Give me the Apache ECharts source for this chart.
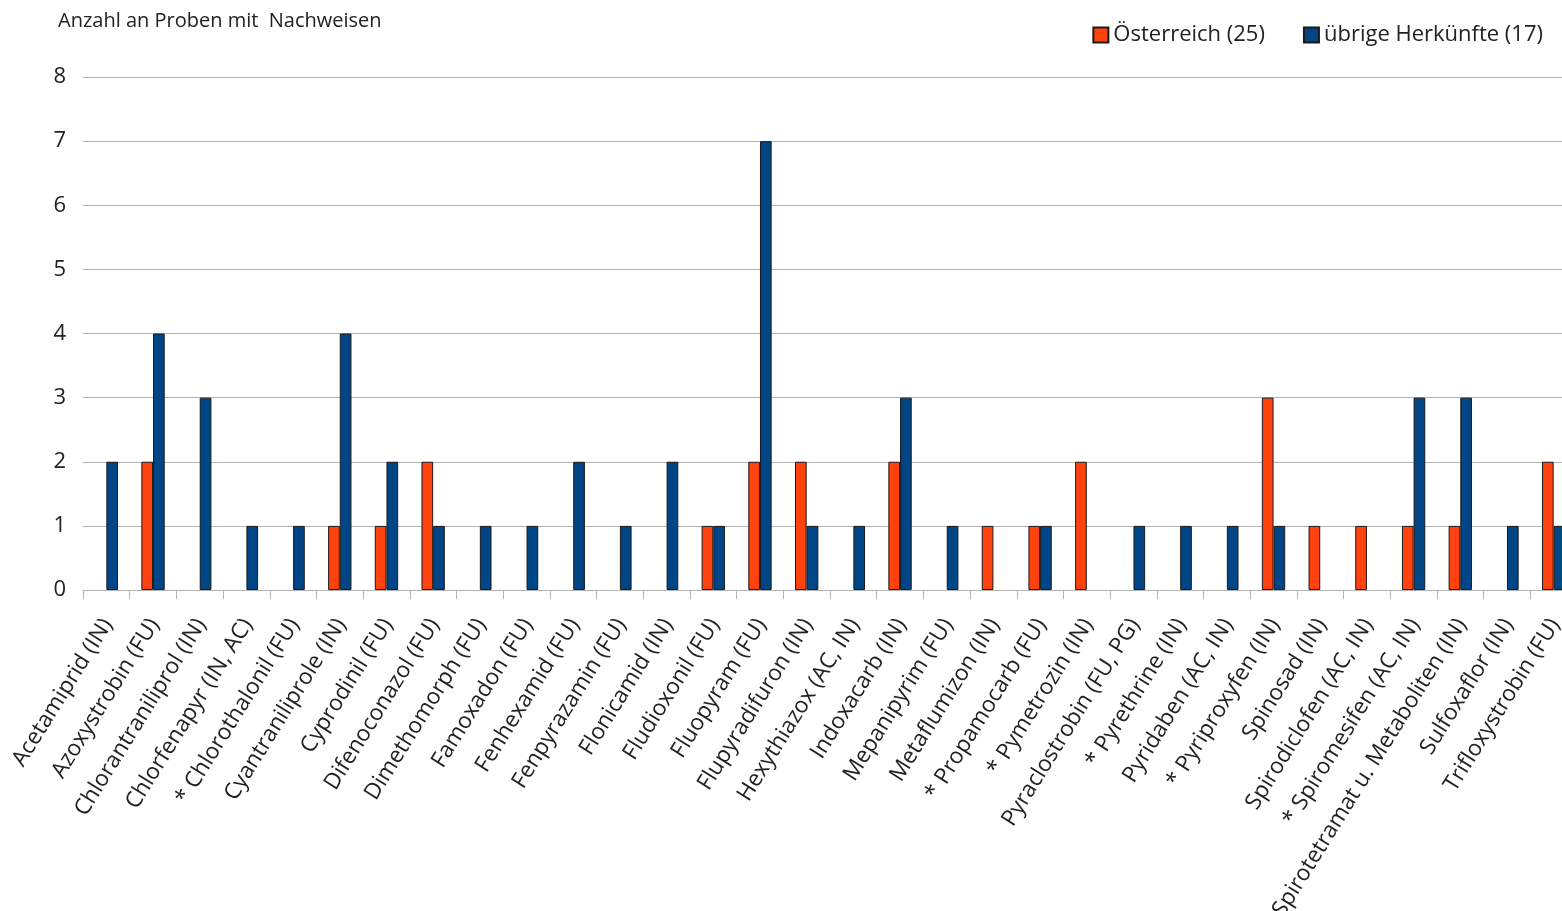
<!DOCTYPE html>
<html>
<head>
<meta charset="utf-8">
<script src="https://cdn.jsdelivr.net/npm/echarts@6/dist/echarts.min.js"></script>
<style>html,body{margin:0;padding:0;background:#fff;}#c{width:1562px;height:911px;}</style>
</head>
<body>
<div id="c"></div>
<script>
const categories = [
  "Acetamiprid (IN)", "Azoxystrobin (FU)", "Chlorantraniliprol (IN)", "Chlorfenapyr (IN, AC)",
  "* Chlorothalonil (FU)", "Cyantraniliprole (IN)", "Cyprodinil (FU)", "Difenoconazol (FU)",
  "Dimethomorph (FU)", "Famoxadon (FU)", "Fenhexamid (FU)", "Fenpyrazamin (FU)",
  "Flonicamid (IN)", "Fludioxonil (FU)", "Fluopyram (FU)", "Flupyradifuron (IN)",
  "Hexythiazox (AC, IN)", "Indoxacarb (IN)", "Mepanipyrim (FU)", "Metaflumizon (IN)",
  "* Propamocarb (FU)", "* Pymetrozin (IN)", "Pyraclostrobin (FU, PG)", "* Pyrethrine (IN)",
  "Pyridaben (AC, IN)", "* Pyriproxyfen (IN)", "Spinosad (IN)", "Spirodiclofen (AC, IN)",
  "* Spiromesifen (AC, IN)", "Spirotetramat u. Metaboliten (IN)", "Sulfoxaflor (IN)", "Trifloxystrobin (FU)"
];
const oesterreich = [0,2,0,0,0,1,1,2,0,0,0,0,0,1,2,2,0,2,0,1,1,2,0,0,0,3,1,1,1,1,0,2];
const uebrige     = [2,4,3,1,1,4,2,1,1,1,2,1,2,1,7,1,1,3,1,0,1,0,1,1,1,1,0,0,3,3,1,1];
const yTicks = [0,1,2,3,4,5,6,7,8];
const seriesNames = ["Österreich (25)", "übrige Herkünfte (17)"];
const titleText = "Anzahl an Proben mit  Nachweisen";

const FONT = "Open Sans";
const chart = echarts.init(document.getElementById('c'), null, {renderer: 'canvas'});
const hideZero = arr => arr.map(v => v === 0 ? '-' : v);
chart.setOption({
  animation: false,
  backgroundColor: '#ffffff',
  textStyle: {fontFamily: FONT},
  title: {
    text: titleText, left: 53, top: 6,
    textStyle: {fontFamily: FONT, fontSize: 20, fontWeight: 'normal', color: '#222'}
  },
  legend: {
    right: 14, top: 19, itemWidth: 15, itemHeight: 15, itemGap: 38,
    icon: 'rect',
    textStyle: {fontFamily: FONT, fontSize: 22, color: '#222'},
    data: seriesNames
  },
  grid: {left: 83, top: 77, width: 1494, bottom: 321, containLabel: false, outerBoundsMode: 'none'},
  xAxis: {
    type: 'category', data: categories,
    axisLine: {show: true, lineStyle: {color: '#b3b3b3', width: 1}},
    axisTick: {show: true, length: 9, lineStyle: {color: '#b3b3b3'}},
    axisLabel: {rotate: 58, interval: 0, margin: 11, align: 'right', verticalAlign: 'top',
      padding: [0, 16, 0, 0],
      fontFamily: FONT, fontSize: 22.5, color: '#222'}
  },
  yAxis: {
    type: 'value', min: 0, max: 8, interval: 1,
    axisLine: {show: false}, axisTick: {show: false},
    axisLabel: {margin: 17, fontFamily: FONT, fontSize: 22, color: '#222',
      formatter: v => yTicks.includes(v) ? String(v) : ''},
    splitLine: {lineStyle: {color: '#b3b3b3', width: 1}}
  },
  series: [
    {name: seriesNames[0], type: 'bar', data: hideZero(oesterreich), barGap: '0%', barCategoryGap: '50%',
     itemStyle: {color: '#ff420e', borderColor: '#1a1a1a', borderWidth: 1}},
    {name: seriesNames[1], type: 'bar', data: hideZero(uebrige), barGap: '0%', barCategoryGap: '50%',
     itemStyle: {color: '#004586', borderColor: '#1a1a1a', borderWidth: 1}}
  ]
});
</script>
</body>
</html>
